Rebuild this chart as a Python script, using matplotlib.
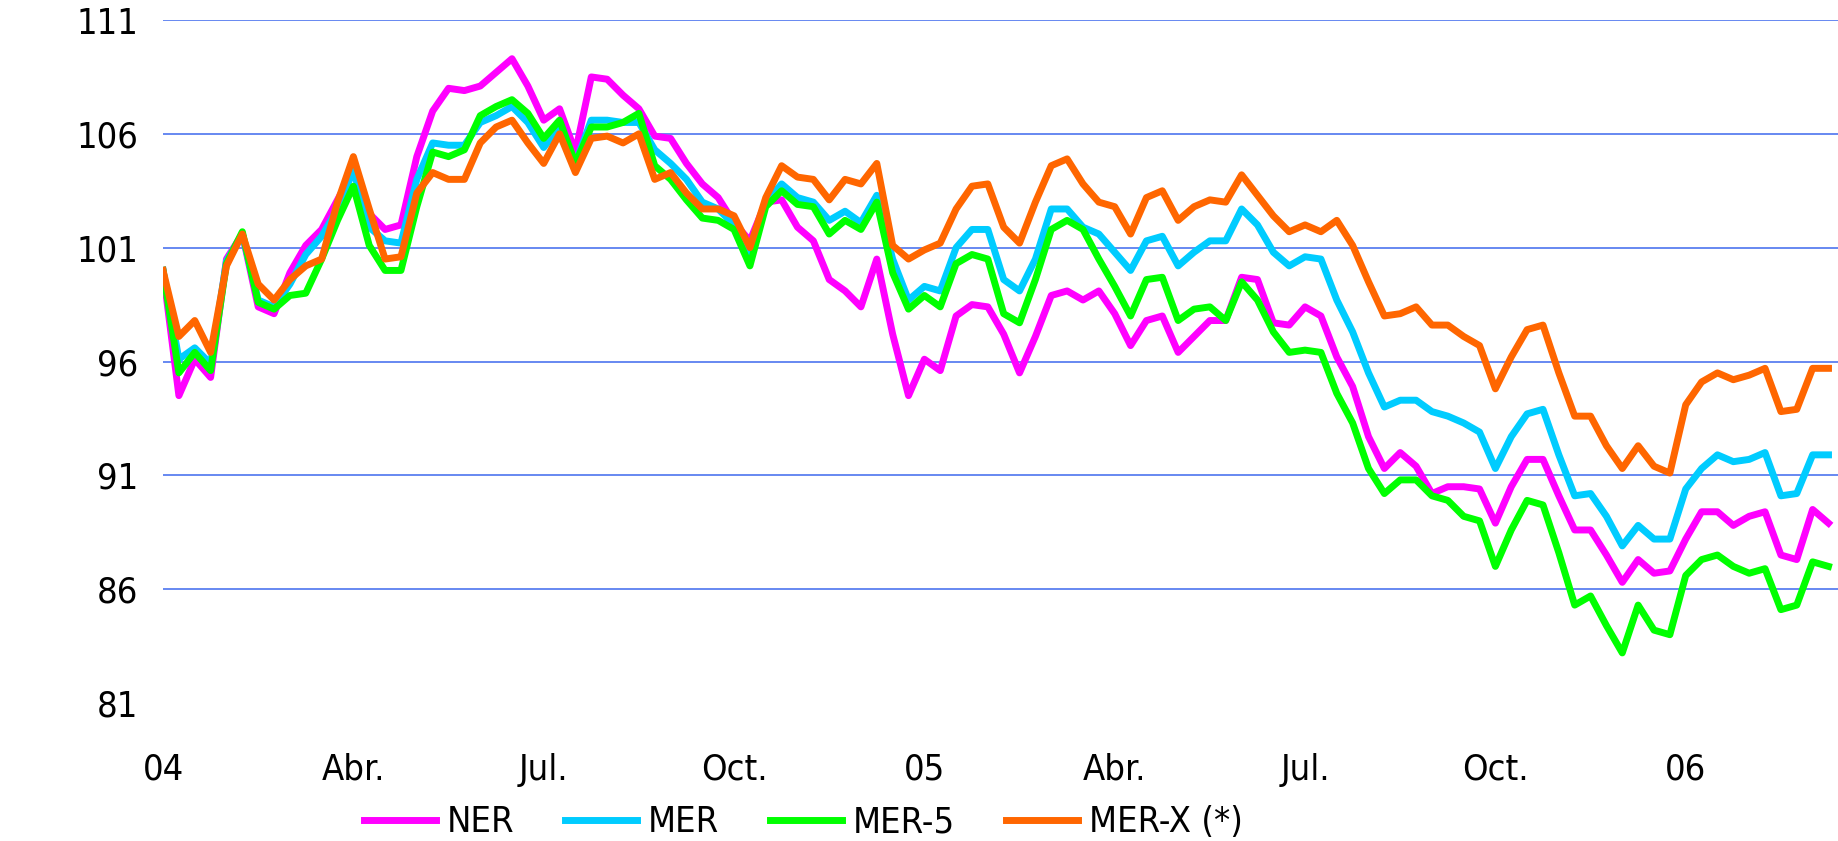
import numpy as np
import matplotlib
matplotlib.use("Agg")
import matplotlib.pyplot as plt

# weekly-ish readings, x in months from Jan 2004
ner = [100.0, 94.5, 96.1, 95.3, 100.5, 101.6, 98.4, 98.1, 99.9, 101.1, 101.8, 103.1,
       104.4, 102.5, 101.8, 102.0, 105.0, 107.0, 108.0, 107.9, 108.1, 108.7, 109.3, 108.1,
       106.6, 107.1, 105.2, 108.5, 108.4, 107.7, 107.1, 105.9, 105.8, 104.7, 103.8, 103.2,
       102.1, 101.3, 103.0, 103.1, 101.9, 101.3, 99.6, 99.1, 98.4, 100.5, 97.2, 94.5,
       96.1, 95.6, 98.0, 98.5, 98.4, 97.2, 95.5, 97.1, 98.9, 99.1, 98.7, 99.1,
       98.1, 96.7, 97.8, 98.0, 96.4, 97.1, 97.8, 97.8, 99.7, 99.6, 97.7, 97.6,
       98.4, 98.0, 96.2, 94.9, 92.7, 91.3, 92.0, 91.4, 90.2, 90.5, 90.5, 90.4,
       88.9, 90.5, 91.7, 91.7, 90.1, 88.6, 88.6, 87.5, 86.3, 87.3, 86.7, 86.8,
       88.2, 89.4, 89.4, 88.8, 89.2, 89.4, 87.5, 87.3, 89.5, 88.9]
mer = [100.0, 96.1, 96.6, 95.9, 100.4, 101.6, 98.7, 98.4, 99.4, 100.7, 101.5, 102.7,
       104.4, 101.9, 101.3, 101.2, 104.0, 105.6, 105.5, 105.5, 106.5, 106.8, 107.2, 106.5,
       105.4, 106.3, 104.7, 106.6, 106.6, 106.5, 106.5, 105.3, 104.7, 104.0, 103.0, 102.7,
       102.0, 100.7, 103.0, 103.8, 103.2, 103.0, 102.2, 102.6, 102.1, 103.3, 100.5, 98.7,
       99.3, 99.1, 101.0, 101.8, 101.8, 99.6, 99.1, 100.5, 102.7, 102.7, 101.9, 101.6,
       100.8, 100.0, 101.3, 101.5, 100.2, 100.8, 101.3, 101.3, 102.7, 102.0, 100.8, 100.2,
       100.6, 100.5, 98.7, 97.3, 95.5, 94.0, 94.3, 94.3, 93.8, 93.6, 93.3, 92.9,
       91.3, 92.7, 93.7, 93.9, 91.9, 90.1, 90.2, 89.2, 87.9, 88.8, 88.2, 88.2,
       90.4, 91.3, 91.9, 91.6, 91.7, 92.0, 90.1, 90.2, 91.9, 91.9]
mer5 = [100.0, 95.5, 96.4, 95.6, 100.3, 101.7, 98.6, 98.3, 98.9, 99.0, 100.5, 102.2,
        103.7, 101.1, 100.0, 100.0, 102.8, 105.2, 105.0, 105.3, 106.8, 107.2, 107.5, 106.9,
        105.8, 106.6, 104.7, 106.3, 106.3, 106.5, 106.9, 104.6, 104.0, 103.1, 102.3, 102.2,
        101.8, 100.2, 102.8, 103.5, 102.9, 102.8, 101.6, 102.2, 101.8, 103.0, 99.9, 98.3,
        98.9, 98.4, 100.3, 100.7, 100.5, 98.1, 97.7, 99.6, 101.8, 102.2, 101.8, 100.5,
        99.3, 98.0, 99.6, 99.7, 97.8, 98.3, 98.4, 97.8, 99.5, 98.7, 97.3, 96.4,
        96.5, 96.4, 94.6, 93.3, 91.3, 90.2, 90.8, 90.8, 90.1, 89.9, 89.2, 89.0,
        87.0, 88.6, 89.9, 89.7, 87.6, 85.3, 85.7, 84.4, 83.2, 85.3, 84.2, 84.0,
        86.6, 87.3, 87.5, 87.0, 86.7, 86.9, 85.1, 85.3, 87.2, 87.0]
merx = [100.0, 97.1, 97.8, 96.4, 100.2, 101.6, 99.4, 98.7, 99.6, 100.2, 100.5, 103.0,
        105.0, 102.7, 100.5, 100.6, 103.4, 104.3, 104.0, 104.0, 105.6, 106.3, 106.6, 105.6,
        104.7, 106.0, 104.3, 105.8, 105.9, 105.6, 106.0, 104.0, 104.3, 103.4, 102.7, 102.7,
        102.4, 101.0, 103.2, 104.6, 104.1, 104.0, 103.1, 104.0, 103.8, 104.7, 101.1, 100.5,
        100.9, 101.2, 102.7, 103.7, 103.8, 101.9, 101.2, 103.0, 104.6, 104.9, 103.8, 103.0,
        102.8, 101.6, 103.2, 103.5, 102.2, 102.8, 103.1, 103.0, 104.2, 103.3, 102.4, 101.7,
        102.0, 101.7, 102.2, 101.1, 99.5, 98.0, 98.1, 98.4, 97.6, 97.6, 97.1, 96.7,
        94.8, 96.2, 97.4, 97.6, 95.5, 93.6, 93.6, 92.3, 91.3, 92.3, 91.4, 91.1,
        94.1, 95.1, 95.5, 95.2, 95.4, 95.7, 93.8, 93.9, 95.7, 95.7]

names = ["NER", "MER", "MER-5", "MER-X (*)"]
colors = ["#FF00FF", "#00CCFF", "#00FF00", "#FF6600"]
tick_pos = [0, 3, 6, 9, 12, 15, 18, 21, 24]
tick_lab = ["04", "Abr.", "Jul.", "Oct.", "05", "Abr.", "Jul.", "Oct.", "06"]
y_ticks = [81, 86, 91, 96, 101, 106, 111]

months = np.arange(len(ner)) * 0.25

plt.rcParams['font.family'] = ['DejaVu Sans']
plt.rcParams['font.stretch'] = 'condensed'

fig = plt.figure(figsize=(18.38, 8.41), dpi=100)
ax = fig.add_axes([0.0887, 0.1641, 0.9113, 0.8121])

for y in y_ticks[1:]:
    ax.axhline(y, color="#5A7FF0", lw=1.3, zorder=0)

for vals, name, c in zip([ner, mer, mer5, merx], names, colors):
    ax.plot(months, vals, color=c, lw=5, label=name, solid_joinstyle="round")

ax.set_xlim(0, 26.4)
ax.set_ylim(81, 111)
ax.set_yticks(y_ticks)
ax.set_yticklabels([str(v) for v in y_ticks])
ax.set_xticks(tick_pos)
ax.set_xticklabels(tick_lab)
ax.tick_params(axis="both", length=0, labelsize=26)
ax.tick_params(axis="y", pad=18)
ax.tick_params(axis="x", pad=36)
for s in ax.spines.values():
    s.set_visible(False)

fig.legend(loc="center", bbox_to_anchor=(0.437, 0.022), ncol=4, frameon=False,
           fontsize=26, handlelength=2.0, handletextpad=0.3, columnspacing=1.4)

fig.savefig("out.png", dpi=100)
